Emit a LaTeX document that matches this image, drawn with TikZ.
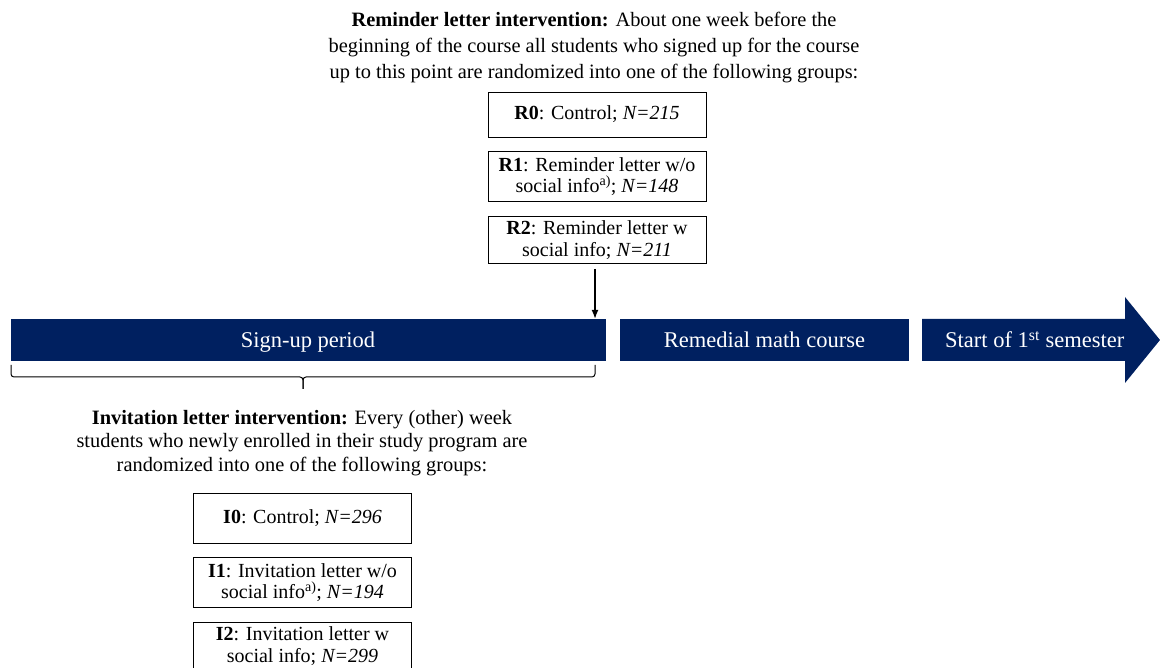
\documentclass[tikz,border=0pt]{standalone}
\usepackage{fontspec}
\setmainfont{Liberation Serif}
\usetikzlibrary{positioning,arrows.meta}
\definecolor{navy}{HTML}{002060}
\tikzset{
  grp/.style={draw, line width=0.8pt, minimum width=218pt, minimum height=47pt, align=center, inner sep=1pt, font=\fontsize{20}{21.5}\selectfont},
  phase/.style={fill=navy, text=white, minimum height=42pt, inner sep=0pt, text height=16pt, text depth=0pt, font=\fontsize{22.5}{24}\selectfont},
  note/.style={align=center, inner sep=0pt, font=\fontsize{20.4}{26}\selectfont}
}
\begin{document}
\begin{tikzpicture}[x=1pt, y=-1pt]
        \useasboundingbox (0,0) rectangle (1160,668);

        %reminder letter
        \node[note] (rnote) at (594,48) {\textbf{Reminder letter intervention:} About one week before the\\ beginning of the course all students who signed up for the course\\ up to this point are randomized into one of the following groups:};
        \node[grp, minimum height=45pt] (r0) at (597,114.5) {\textbf{R0}: Control; \textit{N=215}};
        \node[grp, below=14pt of r0, minimum height=50pt] (r1) {\textbf{R1}: Reminder letter w/o\\ social info\textsuperscript{a)}; \textit{N=148}};
        \node[grp, below=14pt of r1] (r2) {\textbf{R2}: Reminder letter w\\ social info; \textit{N=211}};

        %timeline
        \node[phase, minimum width=595pt] (signup) at (308,340) {Sign-up period};
        \node[phase, minimum width=289pt, right=14pt of signup] (course) {Remedial math course};
        \fill[navy] (922,319) -- (1125,319) -- (1125,297) -- (1160,340) -- (1125,383) -- (1125,361) -- (922,361) -- cycle;
        \node[phase, fill=none, anchor=west] (start) at (945,340) {Start of 1\textsuperscript{st} semester};

        %arrow
        \coordinate (mark) at (595,269);
        \draw[-{Latex[length=9pt,width=7pt]}, line width=1.3pt] (mark) -- (mark |- signup.north);

        %brace
        \coordinate (bl) at (11,365);
        \coordinate (br) at (595,365);
        \coordinate (tip) at (303,389);
        \draw[line width=1pt, rounded corners=3pt] (bl) |- (tip |- 0,377) -- (tip);
        \draw[line width=1pt, rounded corners=3pt] (br) |- (tip |- 0,377) -- (tip);

        %invitation letter
        \node[note, font=\fontsize{20.4}{23.5}\selectfont] (inote) at (302,443) {\textbf{Invitation letter intervention:} Every (other) week\\ students who newly enrolled in their study program are\\ randomized into one of the following groups:};
        \node[grp, minimum height=50pt] (i0) at (302.5,518) {\textbf{I0}: Control; \textit{N=296}};
        \node[grp, below=14pt of i0, minimum height=50pt] (i1) {\textbf{I1}: Invitation letter w/o\\ social info\textsuperscript{a)}; \textit{N=194}};
        \node[grp, below=14pt of i1] (i2) {\textbf{I2}: Invitation letter w\\ social info; \textit{N=299}};
\end{tikzpicture}
\end{document}
